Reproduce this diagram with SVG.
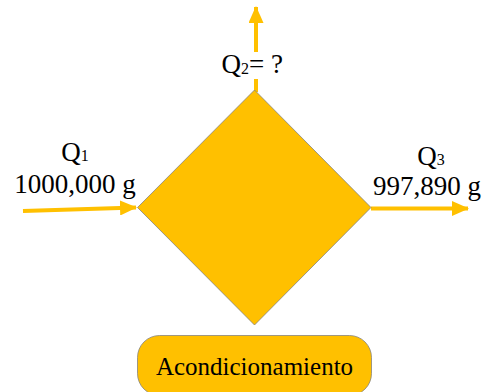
<svg xmlns="http://www.w3.org/2000/svg" width="486" height="392" viewBox="0 0 486 392">
<style>
.shape{fill:#FFC000;stroke:#7f7f7f;stroke-width:0.75}
.flow{fill:none;stroke:#FFC000;stroke-width:4}
.t{font-family:"Liberation Serif","Times New Roman",serif;font-size:27px;fill:#000}
.t.label{font-size:25px}
.sub{font-size:16px}
</style>
<defs>
<marker id="ah" markerUnits="userSpaceOnUse" markerWidth="17" markerHeight="15" refX="16" refY="7.5" orient="auto">
<path d="M0,0 L17,7.5 L0,15 Z" fill="#FFC000"/>
</marker>
</defs>
<g id="connectors">
<path class="flow" d="M23,211 L136,207.5" marker-end="url(#ah)"/>
<path class="flow" d="M371,208.5 L468,208.5" marker-end="url(#ah)"/>
<path class="flow" d="M256,92 V79 M256,52 V7" stroke-width="6" marker-end="url(#ah)"/>
</g>
<g id="process">
<polygon class="shape" points="254.5,90 371,207.5 254.5,325 137.5,207.5"/>
</g>
<g id="acondicionamiento">
<rect class="shape" x="137.5" y="335.5" width="234" height="60" rx="22"/>
<text class="t label" x="254.5" y="375" text-anchor="middle">Acondicionamiento</text>
</g>
<g id="q1">
<text class="t" x="75" y="161" text-anchor="middle">Q<tspan class="sub">1</tspan></text>
<text class="t" x="75" y="193" text-anchor="middle">1000,000 g</text>
</g>
<g id="q2">
<text class="t" x="221.5" y="72.5">Q<tspan class="sub" dy="1">2</tspan><tspan dy="-1">= ?</tspan></text>
</g>
<g id="q3">
<text class="t" x="431" y="165" text-anchor="middle">Q<tspan class="sub">3</tspan></text>
<text class="t" x="373" y="195">997,890 g</text>
</g>
</svg>
